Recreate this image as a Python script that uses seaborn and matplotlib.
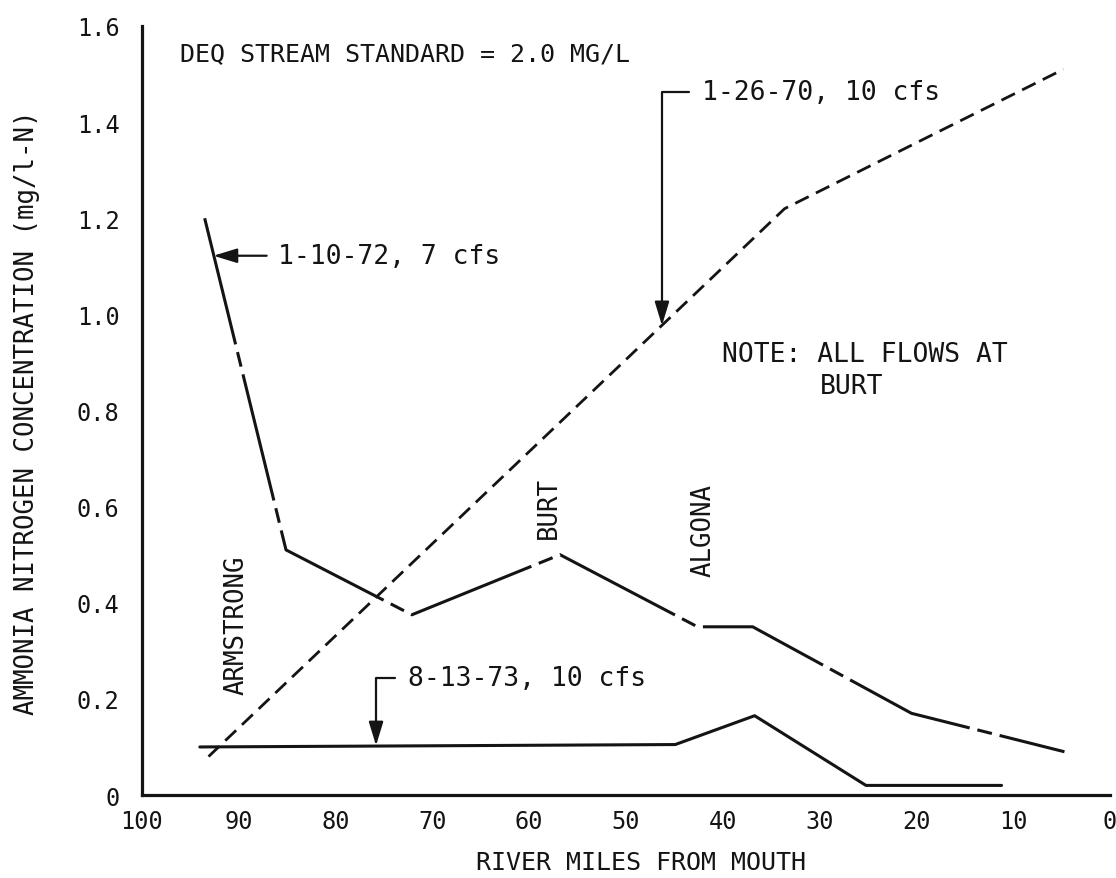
import matplotlib
matplotlib.use("Agg")
import matplotlib.pyplot as plt
import seaborn as sns

# Ammonia nitrogen (mg/l-N) along the river, by survey date
miles_1972 = [93.5, 85.1, 72.1, 56.8, 42.6, 36.9, 20.5, 4.7]
conc_1972 = [1.20, 0.51, 0.375, 0.50, 0.35, 0.35, 0.17, 0.09]

miles_1970 = [93.1, 33.6, 4.8]
conc_1970 = [0.08, 1.22, 1.51]

miles_1973 = [94.0, 44.9, 36.7, 25.2, 11.2]
conc_1973 = [0.10, 0.105, 0.165, 0.02, 0.02]

survey_labels = ["1-10-72, 7 cfs", "1-26-70, 10 cfs", "8-13-73, 10 cfs"]
stations = ["ARMSTRONG", "BURT", "ALGONA"]

x_ticks = [100, 90, 80, 70, 60, 50, 40, 30, 20, 10, 0]
x_tick_labels = ["100", "90", "80", "70", "60", "50", "40", "30", "20", "10", "0"]
y_ticks = [0, 0.2, 0.4, 0.6, 0.8, 1.0, 1.2, 1.4, 1.6]
y_tick_labels = ["0", "0.2", "0.4", "0.6", "0.8", "1.0", "1.2", "1.4", "1.6"]

standard_note = "DEQ STREAM STANDARD = 2.0 MG/L"
flow_note = ["NOTE: ALL FLOWS AT", "BURT"]

INK = "#141414"
MONO = ["DejaVu Sans Mono", "DejaVu Sans"]

sns.set_theme(style="white")
plt.rcParams["font.family"] = MONO
plt.rcParams["text.color"] = INK

fig = plt.figure(figsize=(11.16, 8.79), dpi=100)
ax = fig.add_axes([0.127, 0.0944, 0.8676, 0.8749])

# Survey profiles
sns.lineplot(x=miles_1972, y=conc_1972, ax=ax, color=INK, linewidth=2.2,
             linestyle=(0, (42.5, 2.6, 4.9, 2.6)), sort=False, estimator=None)
sns.lineplot(x=miles_1970, y=conc_1970, ax=ax, color=INK, linewidth=2.0,
             linestyle=(0, (5.4, 2.9)), sort=False, estimator=None)
sns.lineplot(x=miles_1973, y=conc_1973, ax=ax, color=INK, linewidth=2.2,
             sort=False, estimator=None)

# Axes: river miles decrease toward the mouth
ax.set_xlim(100, 0)
ax.set_ylim(0, 1.6)
ax.set_xticks(x_ticks)
ax.set_xticklabels(x_tick_labels)
ax.set_yticks(y_ticks)
ax.set_yticklabels(y_tick_labels)
for side in ("top", "right"):
    ax.spines[side].set_visible(False)
for side in ("left", "bottom"):
    ax.spines[side].set_linewidth(2.3)
    ax.spines[side].set_color(INK)
ax.tick_params(axis="both", direction="in", length=6, width=1.6, colors=INK,
               labelsize=17)
ax.tick_params(axis="y", pad=16)
ax.tick_params(axis="x", pad=10)
ax.grid(False)

ax.set_xlabel("RIVER MILES FROM MOUTH", fontsize=18, color=INK, va="center")
ax.xaxis.set_label_coords(0.5157, -0.0865)
ax.set_ylabel("AMMONIA NITROGEN CONCENTRATION (mg/l-N)", fontsize=18.5,
              color=INK, va="center")
ax.yaxis.set_label_coords(-0.118, 0.498)

# Notes
ax.text(96.05, 1.544, standard_note, fontsize=18, ha="left", va="center")
ax.text(40.1, 0.918, flow_note[0], fontsize=19, ha="left", va="center")
ax.text(29.96, 0.851, flow_note[1], fontsize=19, ha="left", va="center")

# Sampling stations
station_pos = [(90.16, 0.356), (57.9, 0.599), (41.94, 0.553)]
for name, (sx, sy) in zip(stations, station_pos):
    ax.text(sx, sy, name, fontsize=18.5, rotation=90, ha="center", va="center")

# Survey callouts
head = "-|>,head_length=0.72,head_width=0.22"
ax.annotate(survey_labels[0], xy=(92.6, 1.122), xytext=(85.9, 1.122),
            fontsize=19, ha="left", va="center",
            arrowprops=dict(arrowstyle=head, color=INK, lw=1.6,
                            mutation_scale=20, shrinkA=6, shrinkB=0,
                            relpos=(0, 0.5)))
ax.annotate(survey_labels[1], xy=(46.27, 0.977), xytext=(42.16, 1.463),
            fontsize=19, ha="left", va="center",
            arrowprops=dict(arrowstyle=head, color=INK, lw=1.6,
                            mutation_scale=20, shrinkA=7, shrinkB=0,
                            relpos=(0, 0.5),
                            connectionstyle="angle,angleA=180,angleB=90,rad=0"))
ax.annotate(survey_labels[2], xy=(75.8, 0.103), xytext=(72.5, 0.243),
            fontsize=19, ha="left", va="center",
            arrowprops=dict(arrowstyle=head, color=INK, lw=1.6,
                            mutation_scale=20, shrinkA=7, shrinkB=0,
                            relpos=(0, 0.5),
                            connectionstyle="angle,angleA=180,angleB=90,rad=0"))

fig.savefig("out.png", dpi=100, facecolor="white")
